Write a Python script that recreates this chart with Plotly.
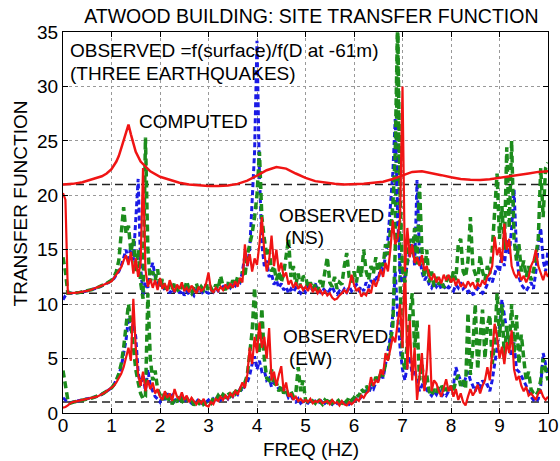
import numpy as np
import plotly.graph_objects as go

# Frequency grid of the observed spectral ratios (Hz)
FREQ = np.linspace(0.0, 10.0, 201)

# Offsets used to stack the three groups of curves
NS_OFFSET = 10
COMPUTED_OFFSET = 20
BASELINES = [1, 11, 21]

# Computed (model) transfer function
COMP_FREQ = [0.0, 0.2, 0.4, 0.6, 0.8, 0.9, 1.0, 1.1, 1.15, 1.2, 1.25, 1.3, 1.35, 1.4,
             1.45, 1.5, 1.6, 1.7, 1.8, 2.0, 2.2, 2.4, 2.6, 2.8, 3.0, 3.2, 3.4, 3.6,
             3.8, 4.0, 4.2, 4.4, 4.6, 4.8, 5.0, 5.2, 5.4, 5.6, 5.8, 6.0, 6.2, 6.4,
             6.6, 6.8, 7.0, 7.2, 7.4, 7.6, 7.8, 8.0, 8.2, 8.4, 8.6, 8.8, 9.0, 9.2,
             9.4, 9.6, 9.8, 10.0]
COMP_VALS = [1.0, 1.05, 1.2, 1.45, 1.75, 2.0, 2.4, 3.1, 3.6, 4.3, 5.1, 5.9, 6.5, 5.6,
             4.7, 4.0, 3.1, 2.6, 2.2, 1.7, 1.4, 1.15, 1.0, 0.9, 0.85, 0.85, 0.9, 1.05,
             1.35, 1.8, 2.3, 2.6, 2.45, 2.0, 1.6, 1.3, 1.15, 1.05, 1.0, 1.0, 1.05, 1.15,
             1.25, 1.5, 1.85, 2.15, 2.2, 2.05, 1.85, 1.65, 1.5, 1.42, 1.4, 1.48, 1.6, 1.75,
             1.9, 2.0, 2.15, 2.2]

# Observed ratios, NS component (three earthquakes)
NS_RED = (
    [10.2, 9.6, 1.0, 1.0, 1.0, 1.0, 1.05, 1.1, 1.12, 1.18, 1.22, 1.28, 1.35, 1.42, 1.5, 1.58, 1.7, 1.8, 1.9, 1.95]
    + [2.1, 2.4, 2.7, 3.1, 3.4, 4.0, 4.5, 3.6, 4.8, 2.8, 4.2, 2.5, 3.8, 12.5, 3.2, 1.6, 2.3, 1.5, 2.2, 1.3]
    + [2.4, 1.4, 1.9, 1.2, 2.2, 1.6, 1.1, 1.8, 1.4, 2.0, 1.2, 1.5, 1.1, 1.7, 1.3, 1.0, 1.6, 1.2, 1.4, 1.9]
    + [2.9, 1.3, 1.1, 1.5, 1.2, 1.6, 1.3, 1.8, 1.4, 1.9, 1.5, 2.1, 1.6, 2.4, 2.0, 5.5, 3.5, 4.6, 3.0, 4.2]
    + [3.6, 5.5, 8.0, 4.8, 3.0, 4.0, 6.3, 3.5, 5.0, 3.0, 3.8, 2.5, 2.9, 1.8, 2.2, 1.5, 2.0, 1.4, 1.8, 1.3]
    + [1.6, 1.2, 1.9, 1.1, 1.5, 1.0, 1.3, 0.9, 1.2, 0.8, 1.0, 0.6, 0.4, 0.5, 0.8, 1.0, 1.3, 1.0, 1.6, 2.7]
    + [1.8, 1.2, 1.5, 0.7, 1.0, 0.8, 1.4, 1.0, 2.2, 1.6, 2.3, 3.2, 2.5, 3.8, 3.0, 5.0, 7.7, 5.5, 6.0, 8.0]
    + [20.0, 3.0, 7.0, 4.3, 5.5, 3.8, 4.3, 3.5, 4.5, 3.1, 3.5, 2.6, 2.2, 2.8, 2.0, 2.5, 1.9, 2.7, 2.2, 2.7]
    + [2.0, 2.4, 1.7, 2.3, 1.6, 1.9, 1.5, 2.1, 1.7, 2.0, 1.4, 1.9, 1.6, 2.2, 1.8, 2.5, 2.8, 3.5, 6.2, 4.5]
    + [5.2, 3.8, 7.4, 5.0, 6.0, 3.5, 2.8, 2.4, 3.0, 2.2, 2.6, 2.0, 2.5, 3.5, 4.0, 5.0, 3.5, 2.8, 2.2, 3.0]
    + [2.5]
)
NS_BLUE = (
    [0.4, 0.8, 1.0, 0.98, 1.0, 1.02, 1.04, 1.08, 1.12, 1.16, 1.22, 1.27, 1.33, 1.4, 1.48, 1.57, 1.66, 1.78, 1.9, 2.02]
    + [2.15, 2.35, 2.7, 3.0, 3.5, 4.2, 5.0, 3.8, 5.5, 4.0, 7.5, 11.5, 3.5, 0.8, 2.0, 1.5, 3.0, 3.8, 2.5, 2.0]
    + [1.5, 2.0, 1.2, 1.6, 1.0, 1.4, 1.1, 1.7, 1.0, 1.3, 0.8, 1.2, 0.9, 1.1, 0.8, 1.3, 1.0, 1.2, 0.9, 1.1]
    + [1.0, 1.3, 1.1, 1.5, 1.2, 1.4, 1.6, 1.3, 1.8, 1.5, 1.9, 1.7, 2.2, 2.0, 3.0, 4.5, 3.5, 5.0, 9.0, 14.0]
    + [24.2, 12.0, 5.5, 3.5, 4.0, 2.5, 2.8, 1.8, 2.2, 1.5, 1.9, 1.3, 1.6, 1.0, 1.4, 1.1, 1.5, 1.2, 1.0, 1.4]
    + [1.1, 1.6, 1.2, 1.4, 1.9, 1.3, 1.1, 1.5, 1.2, 1.0, 1.3, 1.6, 1.1, 0.9, 1.2, 1.0, 1.4, 1.1, 1.6, 1.2]
    + [1.5, 1.8, 1.3, 1.6, 1.2, 2.0, 1.5, 2.2, 1.8, 2.6, 2.2, 3.5, 3.0, 4.5, 6.0, 9.0, 12.0, 17.0, 8.0, 3.0]
    + [2.0, 2.5, 3.5, 4.8, 6.0, 3.5, 11.4, 4.5, 3.0, 2.2, 2.5, 1.8, 1.5, 2.0, 1.6, 1.9, 1.4, 1.7, 1.3, 1.6]
    + [1.4, 1.2, 1.8, 1.5, 2.0, 1.4, 1.6, 1.1, 1.3, 0.9, 1.0, 1.5, 1.2, 1.0, 1.3, 1.8, 2.4, 2.0, 2.8, 3.5]
    + [3.0, 4.5, 3.5, 6.0, 4.5, 7.0, 10.5, 5.0, 2.5, 1.8, 1.5, 1.2, 1.6, 2.0, 1.4, 3.0, 5.5, 7.0, 4.0, 3.0]
    + [5.0]
)
NS_GREEN = (
    [4.3, 3.0, 1.0, 1.0, 0.98, 1.02, 1.05, 1.08, 1.12, 1.17, 1.22, 1.28, 1.34, 1.41, 1.49, 1.58, 1.68, 1.8, 1.92, 2.05]
    + [2.2, 2.5, 3.0, 4.0, 6.5, 8.9, 6.5, 7.2, 4.8, 6.0, 3.0, 5.0, 2.0, 0.5, 15.3, 5.0, 2.0, 3.0, 2.2, 3.2]
    + [1.5, 2.3, 1.6, 1.2, 1.8, 1.3, 2.0, 1.4, 1.1, 1.7, 1.2, 2.1, 1.3, 1.0, 1.5, 1.9, 1.2, 1.6, 1.3, 1.8]
    + [1.2, 1.5, 1.1, 1.8, 1.4, 2.6, 1.6, 1.3, 2.0, 1.5, 2.2, 1.7, 2.5, 2.0, 3.0, 2.5, 4.5, 5.5, 6.5, 8.0]
    + [10.0, 14.0, 8.0, 6.0, 4.5, 5.0, 3.0, 3.5, 2.2, 3.0, 2.0, 2.8, 4.5, 6.0, 2.5, 3.5, 1.8, 2.8, 1.5, 2.5]
    + [2.6, 1.5, 2.0, 1.3, 1.8, 1.2, 2.2, 1.5, 3.0, 4.3, 2.0, 1.6, 2.5, 1.4, 2.0, 1.8, 3.5, 4.7, 2.5, 2.0]
    + [3.0, 2.0, 3.5, 2.5, 5.0, 3.0, 2.2, 3.5, 2.8, 4.3, 3.0, 4.0, 3.5, 5.5, 4.5, 7.0, 9.0, 14.0, 26.0, 10.0]
    + [3.0, 2.0, 4.0, 6.0, 4.5, 7.0, 3.5, 11.0, 5.0, 2.5, 5.0, 2.0, 3.0, 1.6, 2.5, 1.8, 2.2, 1.5, 2.0, 2.8]
    + [2.0, 3.0, 2.2, 5.5, 6.0, 3.0, 2.5, 4.0, 8.0, 3.5, 2.8, 2.0, 4.5, 3.0, 2.2, 3.5, 2.8, 5.0, 8.5, 12.0]
    + [6.0, 9.0, 5.0, 14.4, 7.0, 15.0, 6.0, 4.0, 5.5, 3.0, 4.0, 2.5, 3.5, 2.2, 3.0, 4.5, 6.0, 12.5, 8.0, 12.5]
    + [13.0]
)

# Observed ratios, EW component (three earthquakes)
EW_RED = (
    [0.5, 0.55, 0.7, 0.9, 1.0, 1.05, 1.1, 1.12, 1.15, 1.2, 1.25, 1.3, 1.38, 1.45, 1.5, 1.6, 1.7, 1.85, 2.0, 2.15]
    + [2.3, 2.5, 2.8, 3.2, 3.6, 4.2, 5.0, 6.0, 4.8, 10.5, 6.0, 3.5, 2.5, 3.8, 2.0, 3.0, 2.2, 2.8, 1.8, 2.2]
    + [1.5, 1.2, 2.0, 1.4, 1.8, 1.1, 2.2, 1.5, 1.3, 1.9, 1.2, 1.6, 1.0, 1.4, 1.1, 0.8, 1.2, 0.9, 1.3, 0.7]
    + [0.6, 1.0, 0.8, 1.3, 1.1, 1.5, 1.2, 1.6, 1.3, 1.8, 1.5, 2.0, 1.7, 2.3, 2.8, 2.3, 3.5, 6.0, 4.5, 7.0]
    + [5.5, 8.3, 6.0, 7.0, 5.0, 7.8, 3.0, 3.8, 2.5, 3.5, 4.3, 2.0, 2.8, 1.5, 1.8, 1.2, 1.5, 1.1, 1.3, 1.0]
    + [1.2, 1.0, 1.3, 0.9, 1.1, 1.0, 1.2, 0.9, 1.0, 1.1, 0.8, 1.2, 0.9, 1.0, 0.7, 1.1, 0.8, 0.7, 1.0, 0.8]
    + [1.0, 1.3, 1.1, 1.6, 1.4, 1.8, 2.0, 3.3, 2.5, 3.0, 2.8, 4.0, 3.5, 5.5, 4.8, 6.0, 7.0, 6.5, 8.5, 10.0]
    + [6.0, 14.0, 4.0, 8.5, 3.0, 6.0, 1.2, 3.5, 5.5, 2.0, 4.0, 8.1, 2.0, 3.0, 2.7, 2.0, 1.5, 2.3, 3.1, 2.0]
    + [2.5, 1.5, 2.2, 1.2, 1.8, 1.0, 0.7, 1.5, 2.2, 1.6, 2.0, 2.6, 1.8, 2.5, 3.0, 4.2, 3.0, 5.5, 8.2, 7.0]
    + [5.0, 6.1, 4.5, 6.5, 5.5, 7.6, 4.0, 3.0, 3.4, 2.5, 2.0, 2.4, 1.6, 1.8, 1.5, 1.2, 1.8, 2.1, 1.5, 1.2]
    + [1.5]
)
EW_BLUE = (
    [1.4, 1.2, 1.0, 0.95, 1.0, 1.03, 1.07, 1.1, 1.15, 1.2, 1.25, 1.3, 1.37, 1.44, 1.52, 1.6, 1.7, 1.85, 2.0, 2.15]
    + [2.3, 2.6, 3.0, 3.5, 4.2, 5.5, 6.7, 8.8, 7.5, 8.2, 7.0, 3.7, 2.5, 3.5, 2.0, 4.0, 2.5, 2.0, 1.5, 1.3]
    + [1.0, 1.5, 1.2, 1.8, 1.3, 1.6, 1.1, 1.4, 1.2, 1.7, 1.0, 1.3, 1.1, 0.9, 1.2, 1.0, 1.3, 0.9, 1.1, 1.0]
    + [1.2, 0.9, 1.3, 1.1, 1.5, 1.2, 1.4, 1.6, 1.3, 1.7, 1.5, 1.9, 1.7, 2.2, 2.0, 2.6, 2.8, 3.5, 4.5, 5.2]
    + [4.0, 4.8, 3.8, 3.9, 3.0, 3.2, 2.4, 2.8, 2.6, 2.2, 2.5, 2.1, 2.0, 1.4, 1.6, 1.2, 1.0, 1.3, 0.9, 1.1]
    + [1.0, 0.9, 1.2, 1.0, 1.1, 0.9, 1.0, 1.2, 0.9, 1.1, 1.0, 0.8, 1.1, 0.9, 1.2, 1.0, 0.9, 1.1, 0.8, 1.0]
    + [1.1, 1.3, 1.2, 1.5, 1.6, 2.0, 1.8, 2.4, 2.2, 2.8, 3.0, 3.5, 3.2, 4.5, 5.5, 7.0, 9.0, 13.0, 9.0, 6.0]
    + [4.0, 3.0, 4.5, 5.2, 3.5, 4.0, 3.0, 2.0, 2.5, 3.0, 2.1, 1.8, 1.6, 2.0, 1.7, 2.2, 1.5, 1.8, 1.6, 2.0]
    + [2.0, 2.5, 4.2, 3.5, 3.0, 2.5, 3.2, 3.8, 3.0, 2.5, 2.0, 2.8, 2.2, 3.0, 2.5, 2.6, 2.0, 3.0, 4.5, 6.0]
    + [8.0, 10.4, 9.0, 7.5, 6.0, 5.2, 6.5, 4.0, 3.8, 3.4, 3.0, 2.5, 2.0, 1.5, 1.2, 1.0, 1.3, 2.5, 5.5, 4.5]
    + [3.5]
)
EW_GREEN = (
    [3.9, 2.5, 1.2, 0.9, 1.0, 1.04, 1.08, 1.12, 1.16, 1.2, 1.26, 1.32, 1.38, 1.46, 1.53, 1.62, 1.72, 1.86, 2.0, 2.15]
    + [2.3, 2.6, 3.0, 3.6, 4.5, 6.0, 8.0, 10.0, 8.2, 6.0, 4.0, 2.8, 1.8, 1.3, 1.5, 11.0, 5.0, 3.0, 3.9, 2.2]
    + [1.6, 1.2, 2.0, 1.0, 1.5, 0.8, 1.3, 1.0, 1.7, 1.1, 0.9, 1.4, 1.0, 1.2, 0.7, 1.1, 0.9, 1.3, 0.8, 1.0]
    + [1.1, 0.9, 1.4, 1.2, 1.6, 1.3, 1.7, 1.5, 1.9, 1.6, 2.1, 1.8, 2.3, 2.0, 2.6, 2.8, 3.5, 5.5, 7.5, 11.5]
    + [7.0, 5.5, 9.6, 5.0, 3.2, 3.0, 4.0, 2.5, 2.8, 2.0, 2.5, 1.8, 2.2, 1.6, 2.0, 1.5, 1.8, 4.2, 2.0, 3.0]
    + [1.2, 1.0, 0.8, 1.1, 0.9, 1.3, 1.0, 0.8, 1.2, 1.0, 1.4, 0.9, 1.1, 1.3, 1.0, 0.9, 1.2, 1.0, 1.5, 1.2]
    + [1.4, 1.8, 1.5, 2.2, 1.9, 2.5, 2.1, 2.8, 2.5, 3.3, 3.0, 3.6, 3.5, 4.5, 5.0, 6.5, 8.0, 15.0, 36.0, 12.0]
    + [5.0, 4.0, 7.0, 9.0, 11.0, 6.0, 8.5, 3.0, 4.5, 2.5, 3.5, 2.0, 1.6, 2.2, 1.8, 2.5, 2.6, 1.8, 2.3, 1.9]
    + [2.5, 2.0, 3.0, 3.5, 2.5, 3.0, 2.2, 9.2, 3.5, 6.0, 10.0, 4.0, 7.0, 9.5, 5.0, 8.0, 9.0, 4.5, 6.5, 11.0]
    + [7.0, 10.0, 5.0, 8.0, 6.0, 10.0, 5.5, 9.0, 4.5, 7.2, 5.0, 3.0, 3.8, 2.2, 1.8, 1.6, 2.0, 3.0, 5.0, 4.0]
    + [3.0]
)

X_TICKS = list(range(0, 11))
Y_TICKS = list(range(0, 36, 5))

RED = "#f01414"
BLUE = "#1a1ae6"
GREEN = "#1c8c1c"
FONT = "Liberation Sans, Arial, Helvetica, sans-serif"

fig = go.Figure()

# Reference baselines (unit ratio for each stacked group)
for b in BASELINES:
    fig.add_shape(type="line", xref="x", yref="y", x0=0, x1=10, y0=b, y1=b,
                  line=dict(color="#222222", width=1.5, dash="8px,5px"), layer="below")

def obs_trace(vals, offset, color, dash, width):
    y = np.asarray(vals, dtype=float) + offset
    return go.Scatter(x=FREQ, y=y, mode="lines", showlegend=False, hoverinfo="skip",
                      line=dict(color=color, width=width, dash=dash))

for offset, blue, green, red in [(0, EW_BLUE, EW_GREEN, EW_RED),
                                 (NS_OFFSET, NS_BLUE, NS_GREEN, NS_RED)]:
    fig.add_trace(obs_trace(blue, offset, BLUE, "5px,3px", 3))
    fig.add_trace(obs_trace(green, offset, GREEN, "7px,4px", 3.5))
    fig.add_trace(obs_trace(red, offset, RED, "solid", 2.2))

fig.add_trace(go.Scatter(x=COMP_FREQ, y=np.asarray(COMP_VALS) + COMPUTED_OFFSET,
                         mode="lines", showlegend=False, hoverinfo="skip",
                         line=dict(color=RED, width=2.5)))

texts = [
    (0.1, 33.3, "OBSERVED =f(surface)/f(D at -61m)"),
    (0.1, 31.2, "(THREE EARTHQUAKES)"),
    (1.53, 26.8, "COMPUTED"),
    (4.41, 18.1, "OBSERVED"),
    (4.54, 16.1, "(NS)"),
    (4.49, 7.0, "OBSERVED"),
    (4.62, 5.0, "(EW)"),
]
for x, y, t in texts:
    fig.add_annotation(x=x, y=y, text=t, showarrow=False, xanchor="left", yanchor="middle",
                       font=dict(family=FONT, size=19, color="black"))

# Axis titles
fig.add_annotation(xref="paper", yref="paper", x=0.512, y=-0.097, text="FREQ (HZ)",
                   showarrow=False, xanchor="center", yanchor="middle",
                   font=dict(family=FONT, size=19, color="black"))
fig.add_annotation(xref="paper", yref="paper", x=-0.088, y=0.551, text="TRANSFER FUNCTION",
                   showarrow=False, xanchor="center", yanchor="middle", textangle=-90,
                   font=dict(family=FONT, size=19, color="black"))

axis_common = dict(
    showgrid=True, gridcolor="#999999", griddash="dot", gridwidth=1,
    showline=True, linecolor="black", linewidth=1, mirror="ticks",
    ticks="inside", ticklen=5, tickcolor="black",
    tickfont=dict(family=FONT, size=19, color="black"),
    zeroline=False, automargin=False,
)

fig.update_layout(
    width=560, height=461,
    margin=dict(l=63, r=12, t=32, b=48),
    paper_bgcolor="white", plot_bgcolor="white",
    title=dict(text="ATWOOD BUILDING: SITE TRANSFER FUNCTION", x=0.556, xanchor="center",
               y=0.965, yanchor="middle", font=dict(family=FONT, size=19.5, color="black")),
    xaxis=dict(range=[0, 10], tickvals=X_TICKS, ticklabelstandoff=-5, **axis_common),
    yaxis=dict(range=[0, 35], tickvals=Y_TICKS, **axis_common),
)

fig.write_html("out.html")
